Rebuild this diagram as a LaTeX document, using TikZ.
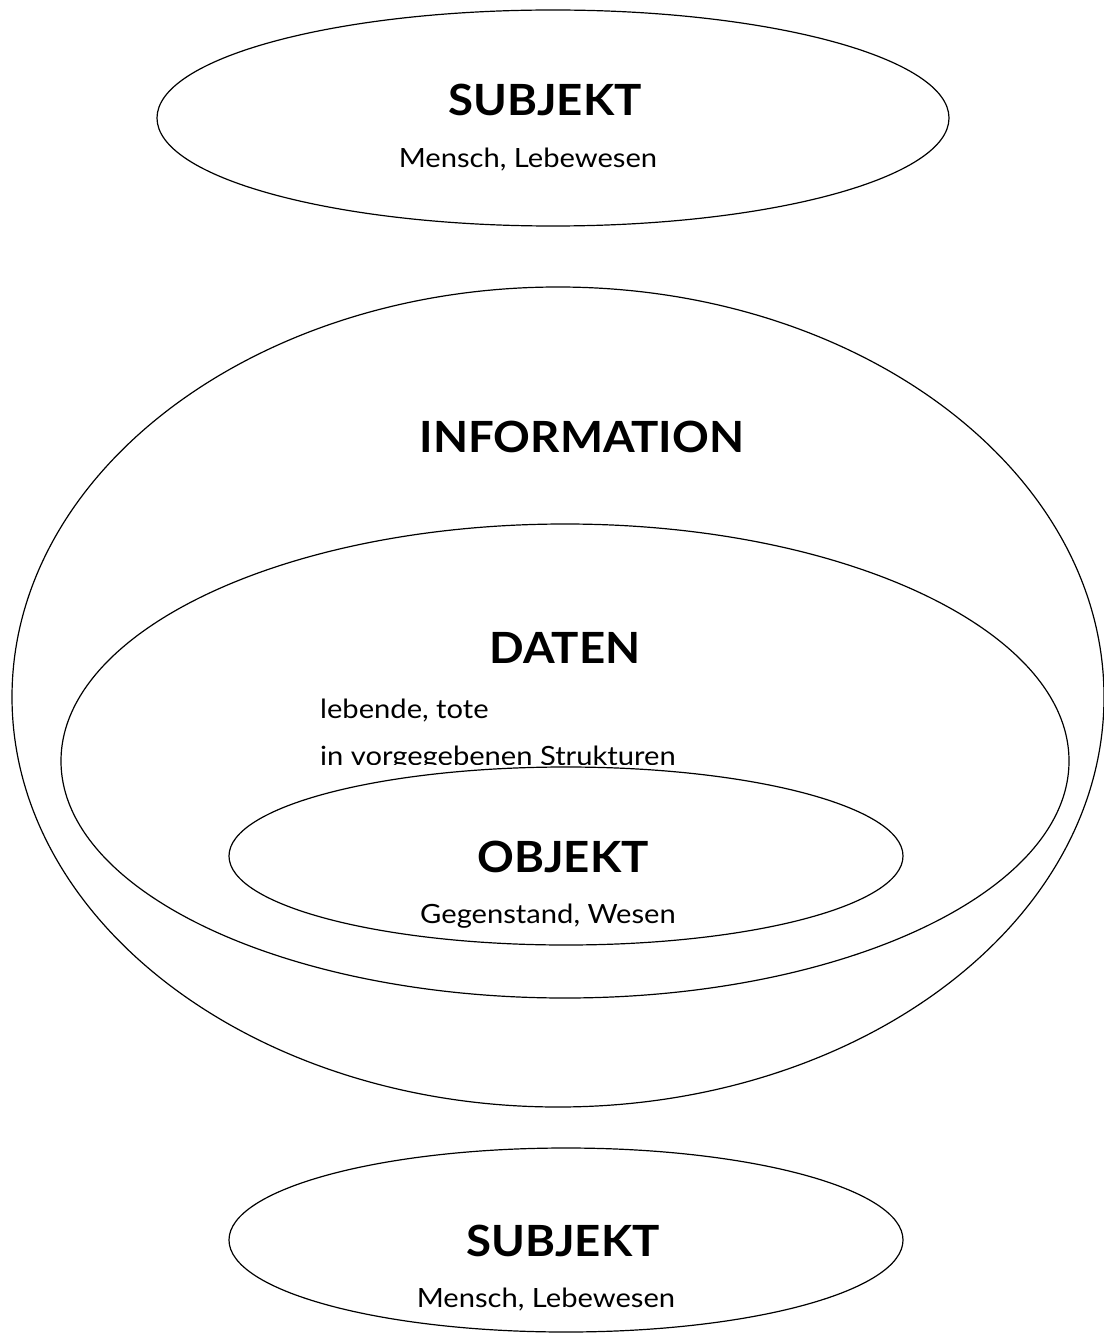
\documentclass[tikz,border=0pt]{standalone}
\usepackage{fontspec}
\setmainfont{Lato}
\newfontfamily\subfont[FakeStretch=1.1]{Lato}
\newfontfamily\titlefont[FakeStretch=1.06]{Lato}
\usetikzlibrary{shapes.geometric}
\begin{document}
\begin{tikzpicture}[x=1pt,y=-1pt,
  oval/.style={draw=black, line width=1.2pt, ellipse, inner sep=0pt, fill=white},
  title/.style={font=\titlefont\fontsize{43}{50}\selectfont\bfseries, inner sep=0pt, anchor=center},
  sub/.style={font=\subfont\fontsize{26.5}{32}\selectfont, inner sep=0pt, anchor=center},
  subl/.style={font=\subfont\fontsize{26.5}{32}\selectfont, inner sep=0pt, anchor=base west}]
\useasboundingbox (0,0) rectangle (1103,1337);
% top subject
\node[oval, minimum width=792pt, minimum height=216pt] (subjtop) at (553,118) {};
\node[title] (subjtoptitle) at (545,100) {SUBJEKT};
\node[sub] (subjtopsub) at (528,160) {Mensch, Lebewesen};
% information
\node[oval, minimum width=1092pt, minimum height=820pt] (info) at (558,697) {};
\node[title] (infotitle) at (582,437) {INFORMATION};
% daten
\node[oval, minimum width=1008pt, minimum height=474pt] (daten) at (565,761) {};
\node[title] (datentitle) at (565,648) {DATEN};
\node[subl] (datensub1) at (320,718) {lebende, tote};
\begin{scope}
\clip (300,730) rectangle (760,764.5);
\node[subl] (datensub2) at (320,765) {in vorgegebenen Strukturen};
\end{scope}
% objekt
\node[oval, minimum width=674pt, minimum height=178pt] (objekt) at (566,856) {};
\node[title] (objekttitle) at (563,857) {OBJEKT};
\node[sub] (objektsub) at (548,916) {Gegenstand, Wesen};
% bottom subject
\node[oval, minimum width=674pt, minimum height=184pt] (subjbot) at (566,1240) {};
\node[title] (subjbottitle) at (563,1241) {SUBJEKT};
\node[sub] (subjbotsub) at (546,1300) {Mensch, Lebewesen};
\end{tikzpicture}
\end{document}
